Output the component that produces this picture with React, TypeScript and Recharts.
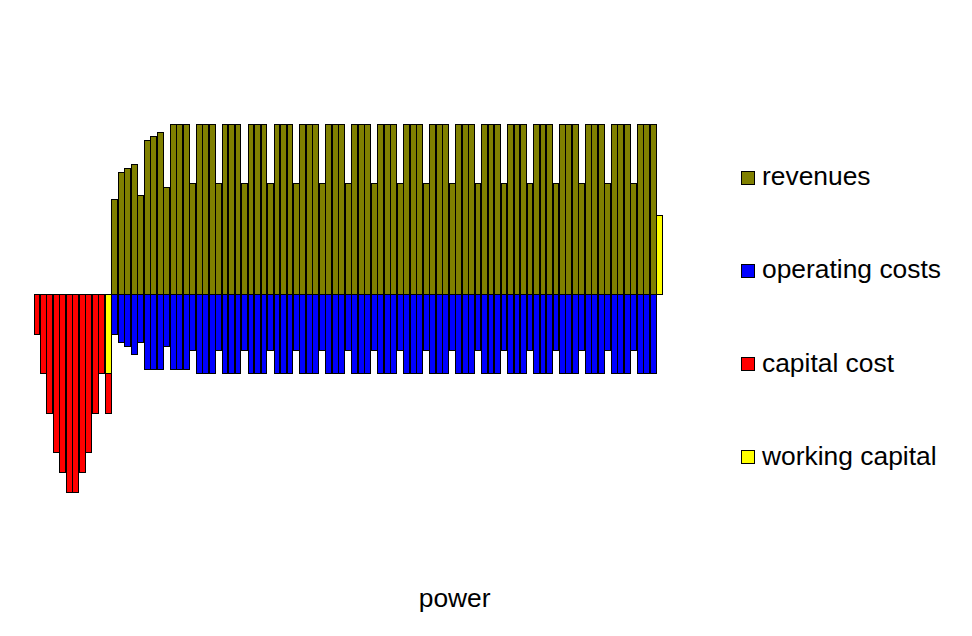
import { BarChart, Bar, XAxis, YAxis, Legend } from 'recharts';

// one bar per period, values in the chart's own units (positive = inflow)
const revenues = [
  0, 0, 0, 0, 0, 0, 0, 0, 0, 0, 0, 0,
  95, 122, 126, 130, 99, 154, 158, 162, 107, 170, 170, 170,
  111, 170, 170, 170, 111, 170, 170, 170, 111, 170, 170, 170,
  111, 170, 170, 170, 111, 170, 170, 170, 111, 170, 170, 170,
  111, 170, 170, 170, 111, 170, 170, 170, 111, 170, 170, 170,
  111, 170, 170, 170, 111, 170, 170, 170, 111, 170, 170, 170,
  111, 170, 170, 170, 111, 170, 170, 170, 111, 170, 170, 170,
  111, 170, 170, 170, 111, 170, 170, 170, 111, 170, 170, 170,
  0,
];

const operatingCosts = [
  0, 0, 0, 0, 0, 0, 0, 0, 0, 0, 0, 0,
  -40, -48, -52, -60, -48, -75, -75, -75, -52, -75, -75, -75,
  -56, -79, -79, -79, -56, -79, -79, -79, -56, -79, -79, -79,
  -56, -79, -79, -79, -56, -79, -79, -79, -56, -79, -79, -79,
  -56, -79, -79, -79, -56, -79, -79, -79, -56, -79, -79, -79,
  -56, -79, -79, -79, -56, -79, -79, -79, -56, -79, -79, -79,
  -56, -79, -79, -79, -56, -79, -79, -79, -56, -79, -79, -79,
  -56, -79, -79, -79, -56, -79, -79, -79, -56, -79, -79, -79,
  0,
];

const capitalCost = [
  -40, -79, -119, -158, -178, -198, -198, -178, -158, -119, -79, -40,
];

const workingCapital = [
  0, 0, 0, 0, 0, 0, 0, 0, 0, 0, 0, -79,
];
const workingCapitalRecovery = 79;

const seriesNames = ['revenues', 'operating costs', 'capital cost', 'working capital'];
const COLORS = ['#808000', '#0000ff', '#ff0000', '#ffff00'];

const data = revenues.map((r, i) => ({
  period: i + 1,
  revenues: r,
  operating: operatingCosts[i],
  capital: capitalCost[i] ?? 0,
  working: i === revenues.length - 1 ? workingCapitalRecovery : workingCapital[i] ?? 0,
}));

// zero-height wrapper so the legend reserves no room in the plot
const LegendBox = () => (
  <div style={{ position: 'relative', width: 230, height: 0 }}>
    {seriesNames.map((name, i) => (
      <div key={name} style={{ position: 'absolute', left: 0, top: i * 93.3, height: 0 }}>
        <div
          style={{
            position: 'absolute',
            left: 0,
            top: 0,
            width: 12,
            height: 12,
            background: COLORS[i],
            border: '1px solid #000',
          }}
        />
        <span
          style={{
            position: 'absolute',
            left: 21,
            top: -9.5,
            fontSize: 26.4,
            lineHeight: '30px',
            whiteSpace: 'nowrap',
            color: '#000',
          }}
        >
          {name}
        </span>
      </div>
    ))}
  </div>
);

export default function App() {
  const plotWidth = 972 - 34 - 308.7;
  const barSize = plotWidth / data.length;
  return (
    <div style={{ position: 'absolute', left: 0, top: 0, width: 972, height: 636, background: '#fff', fontFamily: '"Liberation Sans", Arial, sans-serif' }}>
      <BarChart
        width={972}
        height={636}
        data={data}
        stackOffset="sign"
        barCategoryGap={0}
        barGap={0}
        margin={{ top: 94.3, right: 308.7, bottom: 0, left: 34 }}
      >
        <XAxis
          dataKey="period"
          height={141.7}
          tick={false}
          tickLine={false}
          axisLine={false}
          label={{ value: 'power', position: 'insideBottom', offset: 29, dx: 106, fontSize: 26.4, fill: '#000' }}
        />
        <YAxis hide domain={[-200, 200]} allowDataOverflow />
        <Bar dataKey="revenues" stackId="a" fill={COLORS[0]} stroke="#000" strokeWidth={1} shapeRendering="crispEdges" barSize={barSize} isAnimationActive={false} />
        <Bar dataKey="operating" stackId="a" fill={COLORS[1]} stroke="#000" strokeWidth={1} shapeRendering="crispEdges" barSize={barSize} isAnimationActive={false} />
        <Bar dataKey="working" stackId="a" fill={COLORS[3]} stroke="#000" strokeWidth={1} shapeRendering="crispEdges" barSize={barSize} isAnimationActive={false} />
        <Bar dataKey="capital" stackId="a" fill={COLORS[2]} stroke="#000" strokeWidth={1} shapeRendering="crispEdges" barSize={barSize} isAnimationActive={false} />
        <Legend
          content={<LegendBox />}
          wrapperStyle={{ position: 'absolute', left: 741, top: 170.5, width: 230, height: 0, bottom: 'auto', overflow: 'visible' }}
        />
      </BarChart>
    </div>
  );
}
